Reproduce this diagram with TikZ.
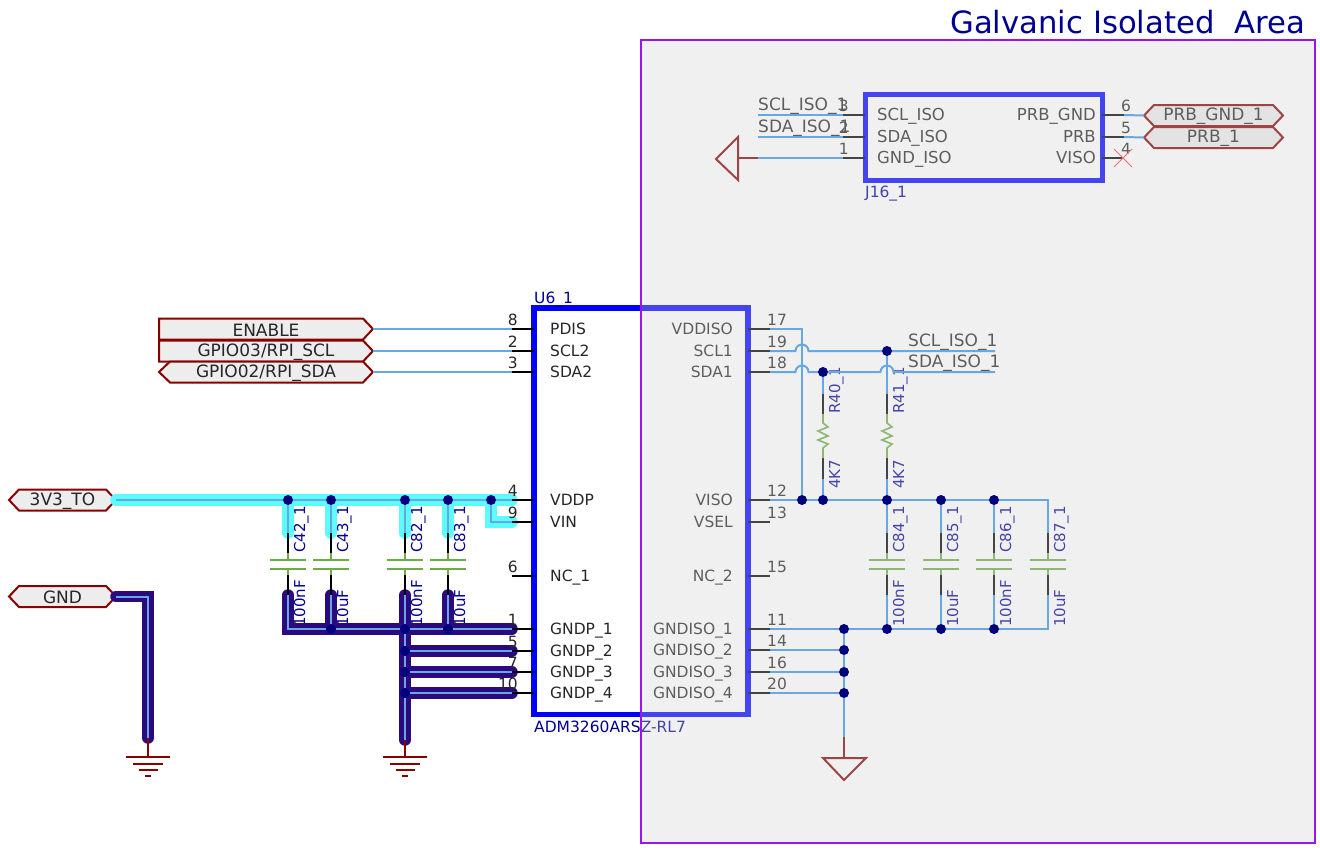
\documentclass[tikz,border=0pt]{standalone}
\usepackage{fontspec}
\setmainfont{DejaVu Sans}
\usetikzlibrary{arrows.meta}

\definecolor{wireblue}{HTML}{68A8E2}
\definecolor{hicyan}{HTML}{5CFBFF}
\definecolor{hidark}{HTML}{2B0A80}
\definecolor{portred}{HTML}{880000}
\definecolor{partgreen}{HTML}{6CAB48}
\definecolor{refnavy}{HTML}{000090}
\definecolor{areapurple}{HTML}{9A14F0}
\definecolor{veil}{HTML}{D1D1D1}

% pins: [name offset]{id}{body edge}{y}{number}{name}
\newcommand{\pinleft}[6][16]{
  \coordinate (#2) at (#3-22,#4);
  \draw[pin] (#2) -- (#3,#4);
  \node[pinnum, anchor=base east] (#2num) at (#3-16,#4-4) {#5};
  \node[pinname, anchor=base west] (#2name) at (#3+#1,#4+5.5) {#6};
}
\newcommand{\pinright}[6][15]{
  \coordinate (#2) at (#3+22,#4);
  \draw[pin] (#2) -- (#3,#4);
  \node[pinnum, anchor=base west] (#2num) at (#3+19,#4-4) {#5};
  \node[pinname, anchor=base east] (#2name) at (#3-#1,#4+5.5) {#6};
}
% ports: {id}{west x}{east x}{y}{west dent}{text}
\newcommand{\portsym}[6]{
  \coordinate (#1w) at (#2,#4);
  \coordinate (#1e) at (#3,#4);
  \draw[port] (#2+#5,#4-10.5) -- (#3-10,#4-10.5) -- (#1e) -- (#3-10,#4+10.5) -- (#2+#5,#4+10.5) -- (#1w) -- cycle;
  \node[porttext] (#1) at (#2/2+#3/2,#4+1) {#6};
}
% capacitor texts and ends: {id}{x}{ref}{value}
\newcommand{\caplabel}[4]{
  \coordinate (#1a) at (#2,533);
  \coordinate (#1b) at (#2,595);
  \node[reflabel] (#1ref) at (#2+17,553) {#3};
  \node[reflabel] (#1val) at (#2+17,627) {#4};
}
\newcommand{\capsym}[1]{
  \draw[pin] (#1a) -- ++(0,20);
  \draw[part] (#1a) ++(0,20) -- ++(0,7);
  \draw[part, line width=2pt] (#1a) ++(-18,27) -- ++(36,0);
  \draw[part, line width=2pt] (#1a) ++(-18,36) -- ++(36,0);
  \draw[part] (#1a) ++(0,36) -- ++(0,6);
  \draw[pin] (#1b) -- ++(0,-20);
}
\newcommand{\ressym}[4]{
  \coordinate (#1a) at (#2,394);
  \coordinate (#1b) at (#2,479);
  \node[reflabel] (#1ref) at (#2+17,414) {#3};
  \node[reflabel] (#1val) at (#2+17,489) {#4};
  \draw[pin] (#1a) -- ++(0,20);
  \draw[pin] (#1b) -- ++(0,-21);
  \draw[part] (#1a) ++(0,20) -- ++(0,9) -- ++(5,4) -- ++(-10,4) -- ++(10,5) -- ++(-10,4) -- ++(10,4) -- ++(-5,4) -- ++(0,10);
}
\newcommand{\earthsym}[2]{
  \draw[earth] (#1) -- (#2);
  \draw[earth] (#2) ++(-22,0) -- ++(44,0);
  \draw[earth] (#2) ++(-15,7) -- ++(30,0);
  \draw[earth] (#2) ++(-9.5,13) -- ++(19,0);
  \draw[earth] (#2) ++(-3,19) -- ++(6,0);
}

\begin{document}
\begin{tikzpicture}[x=1pt, y=-1pt]
\tikzstyle{wire} = [wireblue, line width=2pt]
\tikzstyle{pin} = [black, line width=1.6pt]
\tikzstyle{part} = [partgreen, line width=1.6pt]
\tikzstyle{earth} = [portred, line width=2pt]
\tikzstyle{port} = [draw=portred, fill=black!7, line width=2pt, line join=miter]
\tikzstyle{porttext} = [font=\fontsize{17}{17}\selectfont, text=black!85, inner sep=0pt]
\tikzstyle{pinname} = [font=\fontsize{15.5}{15.5}\selectfont, text=black!85, inner sep=0pt]
\tikzstyle{pinnum} = [font=\fontsize{15.5}{15.5}\selectfont, text=black!85, inner sep=0pt]
\tikzstyle{reflabel} = [font=\fontsize{15}{15}\selectfont, text=refnavy, inner sep=0pt, rotate=90, anchor=base west]
\tikzstyle{partname} = [font=\fontsize{15.5}{15.5}\selectfont, text=refnavy, inner sep=0pt, anchor=base west]
\tikzstyle{netname} = [font=\fontsize{17}{17}\selectfont, text=black!85, inner sep=0pt, anchor=base west]
\tikzstyle{body} = [line width=5.6pt, draw=blue, line join=miter]
\tikzstyle{hicy} = [hicyan, line width=11.5pt, line cap=round, line join=miter]
\tikzstyle{hida} = [hidark, line width=11.5pt, line cap=round, line join=miter]
\tikzstyle{junction} = [circle, fill=refnavy!88!black, inner sep=0pt, minimum size=10pt]
\useasboundingbox (0,0) rectangle (1320,849);

% net and part texts that sit under the wires
\caplabel{c42}{288}{C42\_1}{100nF}
\caplabel{c43}{331}{C43\_1}{10uF}
\caplabel{c82}{405}{C82\_1}{100nF}
\caplabel{c83}{448}{C83\_1}{10uF}
\caplabel{c84}{887}{C84\_1}{100nF}
\caplabel{c85}{941}{C85\_1}{10uF}
\caplabel{c86}{994}{C86\_1}{100nF}
\caplabel{c87}{1048}{C87\_1}{10uF}

% ports
\portsym{enable}{159}{373}{329}{0}{ENABLE}
\portsym{gpiothree}{159}{373}{351}{0}{GPIO03/RPI\_SCL}
\portsym{gpiotwo}{159}{373}{372}{11}{GPIO02/RPI\_SDA}
\portsym{tto}{9}{116}{500}{10}{3V3\_TO}
\portsym{gnd}{9}{116}{596.5}{10}{GND}
\portsym{prbgnd}{1144}{1283}{115.5}{10}{PRB\_GND\_1}
\portsym{prbone}{1144}{1283}{137.5}{10}{PRB\_1}

% highlighted nets
\coordinate (tc42) at (288,500);
\coordinate (tc43) at (331,500);
\coordinate (tc82) at (405,500);
\coordinate (tc83) at (448,500);
\coordinate (tvin) at (491,500);
\coordinate (gc43) at (331,629);
\coordinate (gc82) at (405,629);
\coordinate (gc83) at (448,629);
\coordinate (gtwo) at (405,651);
\coordinate (gthree) at (405,672);
\coordinate (gfour) at (405,693);
\coordinate (earthb) at (405,740);
\coordinate (eartha) at (148,738);
\coordinate (u4) at (512,500);
\coordinate (u9) at (512,522);
\coordinate (u1) at (512,629);
\coordinate (u5) at (512,651);
\coordinate (u7) at (512,672);
\coordinate (u10) at (512,693);
\draw[hicy] (ttoe) -- (u4);
\draw[hicy] (tvin) |- (u9);
\draw[hicy] (tc42) -- (c42a);
\draw[hicy] (tc43) -- (c43a);
\draw[hicy] (tc82) -- (c82a);
\draw[hicy] (tc83) -- (c83a);
\draw[hida] (gnde) -| (eartha);
\draw[hida] (c42b) |- (u1);
\draw[hida] (c43b) -- (gc43);
\draw[hida] (c82b) -- (earthb);
\draw[hida] (c83b) -- (gc83);
\draw[hida] (gtwo) -- (u5);
\draw[hida] (gthree) -- (u7);
\draw[hida] (gfour) -- (u10);

% U6_1
\draw[body] (534,308) rectangle (748,714.5);
\node[partname] (u6ref) at (534,303) {U6\_1};
\node[partname] (u6val) at (534,732) {ADM3260ARSZ-RL7};
\pinleft{u8}{534}{329}{8}{PDIS}
\pinleft{u2}{534}{351}{2}{SCL2}
\pinleft{u3}{534}{372}{3}{SDA2}
\pinleft{u4}{534}{500}{4}{VDDP}
\pinleft{u9}{534}{522}{9}{VIN}
\pinleft{u6}{534}{576}{6}{NC\_1}
\pinleft{u1}{534}{629}{1}{GNDP\_1}
\pinleft{u5}{534}{651}{5}{GNDP\_2}
\pinleft{u7}{534}{672}{7}{GNDP\_3}
\pinleft{u10}{534}{693}{10}{GNDP\_4}
\pinright{u17}{748}{329}{17}{VDDISO}
\pinright{u19}{748}{351}{19}{SCL1}
\pinright{u18}{748}{372}{18}{SDA1}
\pinright{u12}{748}{500}{12}{VISO}
\pinright{u13}{748}{522}{13}{VSEL}
\pinright{u15}{748}{576}{15}{NC\_2}
\pinright{u11}{748}{629}{11}{GNDISO\_1}
\pinright{u14}{748}{650}{14}{GNDISO\_2}
\pinright{u16}{748}{672}{16}{GNDISO\_3}
\pinright{u20}{748}{693}{20}{GNDISO\_4}

% J16_1
\tikzstyle{pinname} = [font=\fontsize{16.5}{16.5}\selectfont, text=black!85, inner sep=0pt]
\draw[body, line width=5pt] (865,94) rectangle (1102,180);
\node[partname] (j16ref) at (865,197) {J16\_1};
\node[netname] (sclisotwo) at (758,110) {SCL\_ISO\_1};
\node[netname] (sdaisotwo) at (758,132) {SDA\_ISO\_1};
\pinleft[12]{j3}{865}{115}{3}{SCL\_ISO}
\pinleft[12]{j2}{865}{137}{2}{SDA\_ISO}
\pinleft[12]{j1}{865}{158}{1}{GND\_ISO}
\pinright[6]{j6}{1102}{115}{6}{PRB\_GND}
\pinright[6]{j5}{1102}{137}{5}{PRB}
\pinright[6]{j4}{1102}{158}{4}{VISO}
\draw[red!75, line width=1pt] (1114,149) -- (1132,167) (1114,167) -- (1132,149);

% parts on the isolated side
\ressym{r40}{823}{R40\_1}{4K7}
\ressym{r41}{887}{R41\_1}{4K7}
\node[netname] (sclisoone) at (908,346) {SCL\_ISO\_1};
\node[netname] (sdaisoone) at (908,367) {SDA\_ISO\_1};
\capsym{c42}
\capsym{c43}
\capsym{c82}
\capsym{c83}
\capsym{c84}
\capsym{c85}
\capsym{c86}
\capsym{c87}

% grounds
\coordinate (gndiso) at (758,158);
\coordinate (gndisob) at (738,158);
\coordinate (gndmain) at (844,737);
\coordinate (gndmainb) at (844,758);
\draw[earth] (gndiso) -- (gndisob);
\draw[earth] (gndisob) ++(0,-21) -- ++(0,43) -- ++(-22,-21) -- cycle;
\draw[earth] (gndmain) -- (gndmainb);
\draw[earth] (gndmainb) ++(-21,0) -- ++(43,0) -- ++(-22,22) -- cycle;
\earthsym{earthb}{405,757}
\earthsym{eartha}{148,757}

% the veil of the isolated area, then its frame and title
\fill[veil, fill opacity=0.325] (641,40) rectangle (1315,843);
\draw[areapurple, line width=2pt] (641,40) rectangle (1315,843);
\node[font=\fontsize{30.7}{30.7}\selectfont, text=refnavy, inner sep=0pt, anchor=base east] (areatitle) at (1305,33) {Galvanic Isolated\ \ Area};

% junctions
\node[junction] (jc42) at (tc42) {};
\node[junction] (jc43) at (tc43) {};
\node[junction] (jc82) at (tc82) {};
\node[junction] (jc83) at (tc83) {};
\node[junction] (jvin) at (tvin) {};
\node[junction] (kc43) at (gc43) {};
\node[junction] (kc82) at (gc82) {};
\node[junction] (kc83) at (gc83) {};
\node[junction] (ktwo) at (gtwo) {};
\node[junction] (kthree) at (gthree) {};
\node[junction] (kfour) at (gfour) {};
\node[junction] (jvdd) at (802,500) {};
\node[junction] (jr40b) at (823,500) {};
\node[junction] (jr41b) at (887,500) {};
\node[junction] (jc85) at (941,500) {};
\node[junction] (jc86) at (994,500) {};
\node[junction] (jsda) at (823,372) {};
\node[junction] (jscl) at (887,351) {};
\node[junction] (iso1) at (844,629) {};
\node[junction] (iso2) at (844,650) {};
\node[junction] (iso3) at (844,672) {};
\node[junction] (iso4) at (844,693) {};
\node[junction] (bc84) at (887,629) {};
\node[junction] (bc85) at (941,629) {};
\node[junction] (bc86) at (994,629) {};

% wires
\coordinate (sclend) at (995,351);
\coordinate (sdaend) at (995,372);
\coordinate (hopscl) at (802,351);
\coordinate (hopsda) at (802,372);
\coordinate (hopres) at (887,372);
\coordinate (sclleft) at (758,115);
\coordinate (sdaleft) at (758,137);
\coordinate (c87top) at (1048,500);
\draw[wire] (enablee) -- (u8);
\draw[wire] (gpiothreee) -- (u2);
\draw[wire] (gpiotwoe) -- (u3);
\draw[wire] (ttoe) -- (jc42) -- (jc43) -- (jc82) -- (jc83) -- (jvin) -- (u4);
\draw[wire] (jvin) |- (u9);
\draw[wire] (jc42) -- (c42a);
\draw[wire] (jc43) -- (c43a);
\draw[wire] (jc82) -- (c82a);
\draw[wire] (jc83) -- (c83a);
\draw[wire] (gnde) -| (eartha);
\draw[wire] (c42b) |- (kc43) -- (kc82) -- (kc83) -- (u1);
\draw[wire] (c43b) -- (kc43);
\draw[wire] (c82b) -- (kc82) -- (ktwo) -- (kthree) -- (kfour) -- (earthb);
\draw[wire] (c83b) -- (kc83);
\draw[wire] (ktwo) -- (u5);
\draw[wire] (kthree) -- (u7);
\draw[wire] (kfour) -- (u10);
\draw[wire] (u17) -| (jvdd);
\draw[wire] (u19) -- ([xshift=-6.5pt]hopscl) arc[start angle=180, end angle=0, radius=6.5pt] -- (jscl) -- (sclend);
\draw[wire] (u18) -- ([xshift=-6.5pt]hopsda) arc[start angle=180, end angle=0, radius=6.5pt] -- (jsda) -- ([xshift=-6.5pt]hopres) arc[start angle=180, end angle=0, radius=6.5pt] -- (sdaend);
\draw[wire] (jscl) -- (r41a);
\draw[wire] (jsda) -- (r40a);
\draw[wire] (r40b) -- (jr40b);
\draw[wire] (r41b) -- (jr41b);
\draw[wire] (u12) -- (jvdd) -- (jr40b) -- (jr41b) -- (jc85) -- (jc86) -- (c87top) -- (c87a);
\draw[wire] (jr41b) -- (c84a);
\draw[wire] (jc85) -- (c85a);
\draw[wire] (jc86) -- (c86a);
\draw[wire] (u11) -- (iso1) -- (bc84) -- (bc85) -- (bc86) -| (c87b);
\draw[wire] (bc84) -- (c84b);
\draw[wire] (bc85) -- (c85b);
\draw[wire] (bc86) -- (c86b);
\draw[wire] (iso1) -- (iso2) -- (iso3) -- (iso4) -- (gndmain);
\draw[wire] (u14) -- (iso2);
\draw[wire] (u16) -- (iso3);
\draw[wire] (u20) -- (iso4);
\draw[wire] (sclleft) -- (j3);
\draw[wire] (sdaleft) -- (j2);
\draw[wire] (gndiso) -- (j1);
\draw[wire] (j6) -- (prbgndw);
\draw[wire] (j5) -- (prbonew);
\end{tikzpicture}
\end{document}
